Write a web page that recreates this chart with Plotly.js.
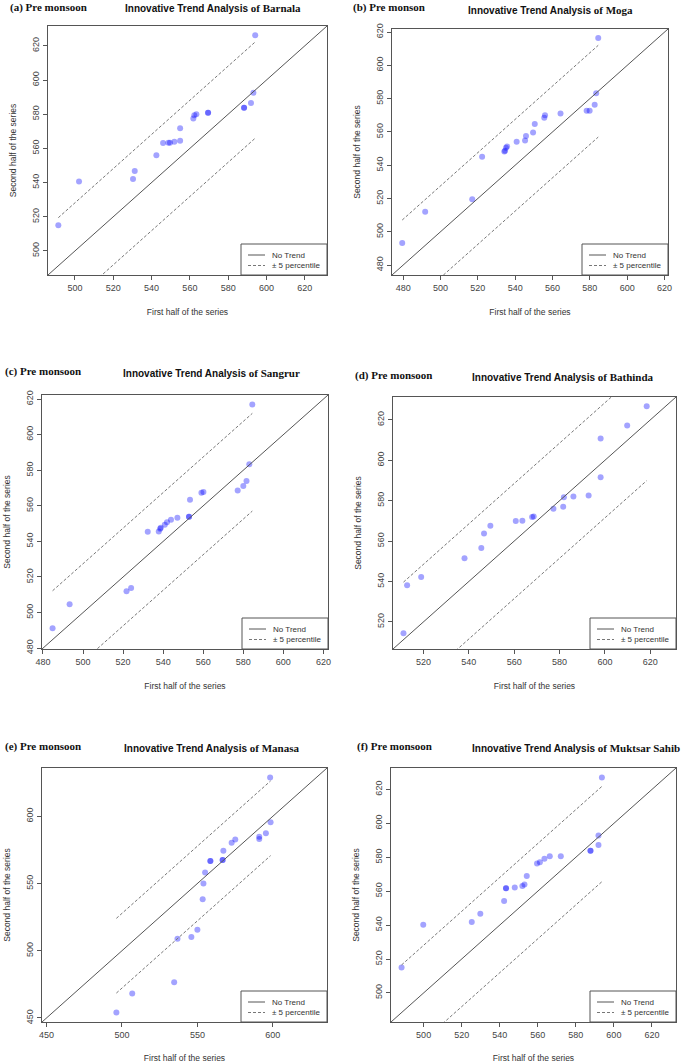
<!DOCTYPE html>
<html>
<head>
<meta charset="utf-8">
<script src="https://cdn.plot.ly/plotly-3.0.1.min.js"></script>
<style>html,body{margin:0;padding:0;background:#fff;}</style>
</head>
<body>
<div id="chart" style="width:685px;height:1063px;"></div>
<script>
// ---------- data ----------
const districts = ['Barnala', 'Moga', 'Sangrur', 'Bathinda', 'Manasa', 'Muktsar Sahib'];
const panelLabels = ['(a) Pre monsoon', '(b) Pre monson', '(c) Pre monsoon', '(d) Pre monsoon', '(e) Pre monsoon', '(f) Pre monsoon'];
const xAxisTitle = 'First half of the series';
const yAxisTitle = 'Second half of the series';
const legendNames = ['No Trend', '\u00B1 5 percentile'];

const barnalaFirst  = [491.3, 502.1, 530.3, 531.2, 542.5, 546.0, 548.8, 549.6, 551.9, 554.9, 554.9, 561.8, 562.3, 563.4, 569.5, 569.5, 588.3, 588.3, 591.9, 593.2, 594.1];
const barnalaSecond = [515.0, 540.6, 542.1, 546.8, 555.9, 563.1, 563.3, 563.3, 563.9, 564.5, 571.7, 577.5, 579.4, 580.0, 580.8, 580.8, 583.7, 583.7, 586.6, 592.5, 626.2];

const mogaFirst  = [479.5, 491.8, 517.0, 522.3, 534.2, 534.6, 535.1, 535.7, 540.8, 545.3, 545.8, 549.6, 550.5, 555.6, 556.0, 564.3, 578.3, 579.9, 582.6, 583.4, 584.5];
const mogaSecond = [493.3, 512.0, 519.5, 545.1, 548.3, 548.7, 550.5, 551.3, 554.1, 554.9, 557.6, 559.6, 564.8, 568.6, 570.0, 571.1, 572.7, 572.7, 576.3, 583.3, 616.4];

const sangrurFirst  = [484.8, 493.3, 521.7, 524.0, 532.3, 537.8, 538.5, 538.8, 540.8, 541.9, 543.9, 547.1, 552.9, 552.9, 553.4, 559.1, 560.1, 577.2, 580.0, 581.6, 583.0, 584.5];
const sangrurSecond = [491.2, 504.7, 512.0, 513.8, 545.4, 545.6, 547.1, 547.7, 549.3, 550.7, 552.1, 553.3, 553.8, 553.8, 563.4, 567.3, 567.7, 568.6, 571.2, 574.0, 583.4, 617.0];

const bathindaFirst  = [511.2, 512.8, 519.0, 538.1, 545.5, 546.7, 549.5, 560.7, 563.6, 567.9, 568.6, 577.3, 581.6, 581.9, 586.1, 592.8, 598.1, 598.1, 609.8, 618.4];
const bathindaSecond = [514.4, 538.1, 542.2, 551.5, 556.6, 563.7, 567.6, 569.9, 570.1, 571.9, 572.2, 576.0, 577.0, 581.7, 582.1, 582.6, 591.6, 610.8, 617.2, 626.7];

const manasaFirst  = [496.3, 506.8, 534.6, 536.8, 546.0, 550.0, 553.5, 554.0, 555.1, 558.6, 558.6, 566.7, 566.7, 567.2, 572.7, 575.1, 591.0, 591.0, 595.4, 598.5, 598.2];
const manasaSecond = [454.0, 468.2, 476.6, 509.0, 510.2, 515.7, 538.3, 550.0, 558.2, 566.7, 566.7, 567.4, 567.4, 574.4, 580.3, 582.8, 583.1, 584.8, 587.3, 595.5, 628.9];

const muktsarFirst  = [488.4, 499.8, 525.3, 529.8, 542.3, 543.3, 543.3, 547.9, 551.9, 553.0, 554.2, 559.6, 561.1, 563.5, 566.3, 572.1, 587.7, 587.7, 591.9, 591.9, 593.7];
const muktsarSecond = [515.0, 540.2, 541.8, 546.7, 554.2, 561.8, 561.8, 562.2, 563.0, 563.9, 569.0, 576.3, 577.1, 579.2, 580.6, 580.6, 583.8, 583.8, 587.2, 592.9, 627.1];

const firstHalves  = [barnalaFirst, mogaFirst, sangrurFirst, bathindaFirst, manasaFirst, muktsarFirst];
const secondHalves = [barnalaSecond, mogaSecond, sangrurSecond, bathindaSecond, manasaSecond, muktsarSecond];

// ---------- layout constants (pixels on the 685x1063 page) ----------
const W = 685, H = 1063;
const boxes    = [[48, 26, 327, 275], [392, 29, 668, 275], [42, 395, 328, 649], [393, 397, 676, 649], [42, 768, 327, 1022], [391, 768, 676, 1022]];
const titlePos = [[213, 8], [550, 10], [211, 373], [563, 377], [211, 748], [576, 748]];
const labelPos = [[8, 7], [351, 7], [3, 371], [353, 375], [3, 746], [355, 746]];
const dticks   = [20, 20, 20, 20, 50, 20];
const legendBox = {w: 86, h: 31, lineX0: 7, lineX1: 24, textX: 29, row1: 20, row2: 9.5};

const sans = 'Liberation Sans, Arial, sans-serif';
const serif = 'Liberation Serif, Times New Roman, serif';
const solidStyle = {color: '#555', width: 1};
const dashStyle = {color: '#777', width: 1, dash: '3px,2px'};

const traces = [];
const layout = {
  width: W, height: H,
  margin: {l: 0, r: 0, t: 0, b: 0},
  paper_bgcolor: '#fff', plot_bgcolor: '#fff',
  showlegend: false,
  annotations: [],
  shapes: [],
  font: {family: sans}
};

for (let i = 0; i < 6; i++) {
  const s = i === 0 ? '' : String(i + 1);
  const xa = 'x' + s, ya = 'y' + s;
  const f = firstHalves[i], sec = secondHalves[i];
  const all = f.concat(sec);
  const mn = Math.min(...all), mx = Math.max(...all);
  const pad = 0.04 * (mx - mn);
  const lo = mn - pad, hi = mx + pad;
  const mean = all.reduce((a, b) => a + b, 0) / all.length;
  const off = 0.05 * mean;
  const fmin = Math.min(...f), fmax = Math.max(...f);

  traces.push({
    type: 'scatter', mode: 'markers', x: f, y: sec, xaxis: xa, yaxis: ya,
    marker: {color: 'rgba(0,0,255,0.36)', size: 6, line: {width: 0}},
    name: districts[i], hoverinfo: 'x+y'
  });
  traces.push({
    type: 'scatter', mode: 'lines', x: [lo, hi], y: [lo, hi], xaxis: xa, yaxis: ya,
    line: solidStyle, name: legendNames[0]
  });
  traces.push({
    type: 'scatter', mode: 'lines', x: [fmin, fmax], y: [fmin + off, fmax + off], xaxis: xa, yaxis: ya,
    line: dashStyle, name: legendNames[1]
  });
  traces.push({
    type: 'scatter', mode: 'lines', x: [fmin, fmax], y: [fmin - off, fmax - off], xaxis: xa, yaxis: ya,
    line: dashStyle, name: legendNames[1]
  });

  const b = boxes[i];
  const pw = b[2] - b[0], ph = b[3] - b[1];
  const axisCommon = {
    range: [lo, hi], dtick: dticks[i], tick0: 0,
    showline: true, mirror: true, linecolor: '#555', linewidth: 1,
    ticks: 'outside', ticklen: 4, tickcolor: '#555', tickwidth: 1,
    showgrid: false, zeroline: false,
    tickfont: {family: sans, size: 9, color: '#444'}
  };
  layout['xaxis' + s] = Object.assign({}, axisCommon, {
    domain: [b[0] / W, b[2] / W], anchor: ya,
    title: {text: xAxisTitle, font: {family: sans, size: 8.5, color: '#333'}, standoff: 17}
  });
  layout['yaxis' + s] = Object.assign({}, axisCommon, {
    domain: [1 - b[3] / H, 1 - b[1] / H], anchor: xa, tickangle: -90,
    title: {text: yAxisTitle, font: {family: sans, size: 8.5, color: '#333'}, standoff: 13}
  });

  // legend box (bottom-right corner of each panel)
  const xr = xa + ' domain', yr = ya + ' domain';
  const lx0 = 1 - legendBox.w / pw;
  layout.shapes.push({type: 'rect', xref: xr, yref: yr, x0: lx0, x1: 1, y0: 0, y1: legendBox.h / ph,
    line: {color: '#555', width: 1}, fillcolor: '#fff', layer: 'above'});
  const rows = [legendBox.row1 / ph, legendBox.row2 / ph];
  const styles = [solidStyle, dashStyle];
  for (let k = 0; k < 2; k++) {
    layout.shapes.push({type: 'line', xref: xr, yref: yr,
      x0: lx0 + legendBox.lineX0 / pw, x1: lx0 + legendBox.lineX1 / pw, y0: rows[k], y1: rows[k],
      line: styles[k], layer: 'above'});
    layout.annotations.push({xref: xr, yref: yr, x: lx0 + legendBox.textX / pw, y: rows[k],
      xanchor: 'left', yanchor: 'middle', showarrow: false, text: legendNames[k],
      font: {family: sans, size: 8, color: '#333'}});
  }

  layout.annotations.push({
    xref: 'paper', yref: 'paper', x: titlePos[i][0] / W, y: 1 - titlePos[i][1] / H,
    xanchor: 'center', yanchor: 'middle', showarrow: false,
    text: '<b>Innovative Trend Analysis <span style="font-family:' + serif + ';font-size:11px">of ' + districts[i] + '</span></b>',
    font: {family: sans, size: 10, color: '#111'}
  });
  layout.annotations.push({
    xref: 'paper', yref: 'paper', x: labelPos[i][0] / W, y: 1 - labelPos[i][1] / H,
    xanchor: 'left', yanchor: 'middle', showarrow: false,
    text: '<b>' + panelLabels[i] + '</b>',
    font: {family: serif, size: 11, color: '#111'}
  });
}

Plotly.newPlot('chart', traces, layout, {displayModeBar: false, staticPlot: true});
</script>
</body>
</html>
